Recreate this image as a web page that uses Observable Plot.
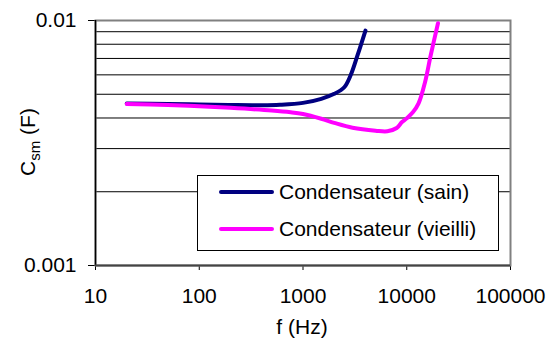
<!DOCTYPE html>
<html>
<head>
<meta charset="utf-8">
<script src="https://cdn.jsdelivr.net/npm/d3@7"></script>
<script src="https://cdn.jsdelivr.net/npm/@observablehq/plot@0.6"></script>
<style>
  html, body { margin: 0; padding: 0; background: #fff; }
  #wrap { position: relative; width: 560px; height: 342px; font-family: "Liberation Sans", Arial, sans-serif; }
  #wrap svg text { font-size: 21px; font-family: "Liberation Sans", Arial, sans-serif; fill: #000; }
  #legend { position: absolute; left: 197px; top: 175px; width: 300px; height: 74px; border: 1px solid #000; background: #fff; }
  .row { position: absolute; left: 0; height: 24px; display: flex; align-items: center; font-size: 21px; color: #000; white-space: nowrap; }
  .sw { width: 55px; height: 4px; border-radius: 2px; margin-left: 21px; margin-right: 5px; }
</style>
</head>
<body>
<div id="wrap"></div>
<script>
// Data
const seriesNames = ["Condensateur (sain)", "Condensateur (vieilli)"];
const seriesColors = ["#000080", "#ff00ff"];

const fSain = [20, 50, 100, 200, 400, 600, 1000, 1500, 2000, 2500, 2870, 3350, 4000];
const cSain = [0.00458, 0.00456, 0.00454, 0.00452, 0.00451, 0.00453, 0.00461, 0.00479, 0.00502, 0.00534, 0.00596, 0.0072, 0.0091];

const fVieilli = [20, 50, 100, 200, 500, 760, 1000, 1500, 2000, 3000, 5000, 6500, 8000, 9000, 10000, 11500, 13000, 15000, 17000, 20000];
const cVieilli = [0.00456, 0.00452, 0.00447, 0.0044, 0.00429, 0.00422, 0.00415, 0.00397, 0.00382, 0.00365, 0.00355, 0.00353, 0.00364, 0.00385, 0.00399, 0.00423, 0.00459, 0.0056, 0.0072, 0.00975];

const xTicks = [10, 100, 1000, 10000, 100000];
const yTicks = [0.001, 0.01];
const yGrid = [0.002, 0.003, 0.004, 0.005, 0.006, 0.007, 0.008, 0.009];

const sain = fSain.map((f, i) => ({f, c: cSain[i]}));
const vieilli = fVieilli.map((f, i) => ({f, c: cVieilli[i]}));

const chart = Plot.plot({
  width: 560,
  height: 342,
  marginLeft: 95,
  marginRight: 50,
  marginTop: 20,
  marginBottom: 77,
  style: {background: "#fff", fontSize: "21px", fontFamily: "Liberation Sans, Arial, sans-serif", overflow: "visible"},
  x: {type: "log", domain: [10, 100000], ticks: xTicks, tickFormat: d => String(d), tickSize: 5, tickPadding: 18, label: null},
  y: {type: "log", domain: [0.001, 0.01], ticks: yTicks, tickFormat: d => String(d), tickSize: 7, tickPadding: 12, label: null},
  marks: [
    Plot.ruleY(yGrid, {stroke: "#000", strokeWidth: 1}),
    Plot.frame({stroke: "#808080", strokeWidth: 2}),
    Plot.ruleX([10], {stroke: "#000", strokeWidth: 1.5}),
    Plot.ruleY([0.001], {stroke: "#444", strokeWidth: 2}),
    Plot.line(sain, {x: "f", y: "c", stroke: seriesColors[0], strokeWidth: 4, curve: "catmull-rom", strokeLinecap: "round", strokeLinejoin: "round"}),
    Plot.line(vieilli, {x: "f", y: "c", stroke: seriesColors[1], strokeWidth: 4, curve: "catmull-rom", strokeLinecap: "round", strokeLinejoin: "round"})
  ]
});

const wrap = document.getElementById("wrap");
wrap.appendChild(chart);

// Axis titles
const svg = d3.select(chart);
svg.append("text")
  .attr("x", 302).attr("y", 334)
  .attr("text-anchor", "middle")
  .text("f (Hz)");
const yl = svg.append("text")
  .attr("transform", "translate(35,142) rotate(-90)")
  .attr("text-anchor", "middle");
yl.append("tspan").text("C");
yl.append("tspan").attr("dy", 5).style("font-size", "15px").text("sm");
yl.append("tspan").attr("dy", -5).text(" (F)");

// Legend
const legend = document.createElement("div");
legend.id = "legend";
seriesNames.forEach((name, i) => {
  const row = document.createElement("div");
  row.className = "row";
  row.style.top = (i === 0 ? 4 : 41) + "px";
  const sw = document.createElement("div");
  sw.className = "sw";
  sw.style.background = seriesColors[i];
  const t = document.createElement("span");
  t.textContent = name;
  row.appendChild(sw);
  row.appendChild(t);
  legend.appendChild(row);
});
wrap.appendChild(legend);
</script>
</body>
</html>
